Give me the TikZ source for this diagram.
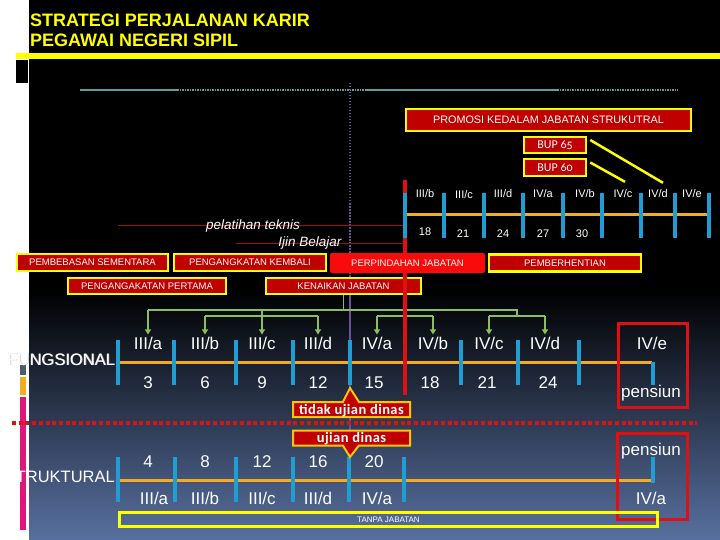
\documentclass[tikz,border=0pt]{standalone}
\usepackage{fontspec}
\setmainfont{Liberation Sans}
\newfontfamily\carlito{Carlito}
\newfontfamily\carlitoOS[Numbers=OldStyle]{Carlito}
\usetikzlibrary{arrows.meta,shapes.callouts}
\definecolor{dkred}{RGB}{192,0,0}
\definecolor{brred}{RGB}{250,10,10}
\definecolor{ylw}{RGB}{255,255,0}
\definecolor{oyl}{RGB}{255,196,0}
\definecolor{tblue}{RGB}{30,158,210}
\definecolor{orng}{RGB}{240,172,40}
\definecolor{grn}{RGB}{140,190,95}
\definecolor{tealln}{RGB}{95,158,150}
\definecolor{purp}{RGB}{105,80,160}
\definecolor{rline}{RGB}{225,15,15}
\definecolor{drline}{RGB}{150,20,20}
\definecolor{mag}{RGB}{225,20,120}
\definecolor{slate}{RGB}{80,90,110}
\definecolor{gold}{RGB}{240,176,30}
\definecolor{bgmid}{RGB}{32,40,62}
\definecolor{bgbot}{RGB}{88,112,160}
\definecolor{shadowgray}{RGB}{200,200,200}
\begin{document}
\begin{tikzpicture}[x=1pt,y=-1pt,
  title/.style={anchor=base west, text=ylw, inner sep=0pt, font=\bfseries\fontsize{18}{18}\selectfont},
  redbox/.style={draw=ylw, line width=2.5pt, fill=dkred, text=white, inner sep=0pt, font=\fontsize{9.5}{9.5}\selectfont},
  callbox/.style={rectangle callout, draw=oyl, line width=2pt, fill=dkred, text=white, inner sep=0pt,
    minimum width=117pt, minimum height=15pt, callout pointer width=16pt,
    text height=10pt, text depth=1pt, font=\carlito\bfseries\fontsize{14.5}{14.5}\selectfont\addfontfeatures{LetterSpace=3}},
  lbls/.style={text=white, inner sep=0pt, anchor=base, font=\fontsize{11}{11}\selectfont},
  lbll/.style={text=white, inner sep=0pt, anchor=base, font=\fontsize{17}{17}\selectfont},
  lblit/.style={text=white, inner sep=0pt, font=\itshape\fontsize{13.5}{13.5}\selectfont},
  side/.style={text=white, inner sep=0pt, anchor=base east, font=\fontsize{16.5}{16.5}\selectfont},
  tick/.style={draw=tblue, line width=4pt},
  orl/.style={draw=orng, line width=3pt},
  tealline/.style={draw=tealln, line width=2pt},
  gline/.style={draw=grn, line width=1.5pt},
  garrow/.style={draw=grn, line width=1.5pt, -{Triangle[length=5pt,width=6pt]}, shorten >=2pt},
  redframe/.style={draw=rline, line width=3pt},
  yline/.style={draw=ylw, line width=2.5pt}
]
\useasboundingbox (0,0) rectangle (720,540);
% background
\fill[black] (29,0) rectangle (720,540);
\shade[top color=black, middle color=bgmid, bottom color=bgbot] (29,290) rectangle (720,540);
\fill[white] (0,0) rectangle (29,540);
\fill[ylw] (16,53) rectangle (720,59);
\fill[black] (16,60) rectangle (28,83);
\fill[slate] (20,365) rectangle (26,375);
\fill[gold] (20,377) rectangle (26,395);
\fill[mag] (20,397) rectangle (26,530);
% title
\node[title] (tl1) at (30,27) {STRATEGI PERJALANAN KARIR};
\node[title] (tl2) at (30,47) {PEGAWAI NEGERI SIPIL};
% teal line
\draw[tealline] (80,90) -- (177,90);
\draw[tealline, dash pattern=on 1.5pt off 1pt] (177,90) -- (365,90);
\draw[tealline] (365,90) -- (557,90);
\draw[tealline, dash pattern=on 1.5pt off 1pt] (557,90) -- (678,90);
% purple vertical
\draw[purp, line width=1.5pt, dash pattern=on 1.5pt off 1.5pt] (350,83) -- (350,277);
\draw[purp, line width=1.5pt] (350,295) -- (350,510);
% thin red lines with labels
\draw[drline, line width=1pt] (118,226) -- (405,226);
\draw[drline, line width=1pt] (236,243) -- (405,243);
\node[lblit] (pel) at (253,226.5) {pelatihan teknis};
\node[lblit] (ijin) at (310,243.5) {Ijin Belajar};

% top boxes
\node[redbox, minimum width=285pt, minimum height=22pt, font=\fontsize{10.8}{10.8}\selectfont] (promo) at (548.5,120) {PROMOSI KEDALAM JABATAN STRUKUTRAL};
\node[redbox, minimum width=62pt, minimum height=16pt, font=\carlitoOS\fontsize{12}{12}\selectfont] (bup65) at (555,145) {BUP 65};
\node[redbox, minimum width=62pt, minimum height=17pt, font=\carlitoOS\fontsize{12}{12}\selectfont] (bup60) at (555,167.5) {BUP 60};

% fungsional timeline
\draw[orl] (118,362) -- (652,362);
\foreach \x in {118,174,236,293,350,461,518,579} \draw[tick] (\x,340) -- (\x,385);
\draw[tick] (653,362) -- (653,385);
% struktural timeline
\draw[orl] (118,480) -- (653,480);
\foreach \x in {118,175,236,293,349,404} \draw[tick] (\x,457) -- (\x,502);
\draw[tick] (653,457) -- (653,483);

% fungsional labels
\node[lbll] (fIIIa) at (148,349) {III/a};
\node[lbll] (fIIIb) at (205,349) {III/b};
\node[lbll] (fIIIc) at (262,349) {III/c};
\node[lbll] (fIIId) at (318,349) {III/d};
\node[lbll] (fIVa) at (377,349) {IV/a};
\node[lbll] (fIVb) at (433,349) {IV/b};
\node[lbll] (fIVc) at (489,349) {IV/c};
\node[lbll] (fIVd) at (545,349) {IV/d};
\node[lbll] (fIVe) at (652,349) {IV/e};
\node[lbll] (fn3) at (148,388) {3};
\node[lbll] (fn6) at (205,388) {6};
\node[lbll] (fn9) at (262,388) {9};
\node[lbll] (fn12) at (318,388) {12};
\node[lbll] (fn15) at (374,388) {15};
\node[lbll] (fn18) at (430,388) {18};
\node[lbll] (fn21) at (487,388) {21};
\node[lbll] (fn24) at (548,388) {24};
\node[lbll] (fpens) at (651,397) {pensiun};
\draw[redframe] (618,323) rectangle (687,407);
\node[side, text=shadowgray] (fungsh) at (115.8,365.8) {FUNGSIONAL};
\node[side] (fung) at (115,365) {FUNGSIONAL};

% struktural labels
\node[lbll] (sn4) at (148,467) {4};
\node[lbll] (sn8) at (205,467) {8};
\node[lbll] (sn12) at (262,467) {12};
\node[lbll] (sn16) at (318,467) {16};
\node[lbll] (sn20) at (374,467) {20};
\node[lbll] (sIIIa) at (154,504) {III/a};
\node[lbll] (sIIIb) at (205,504) {III/b};
\node[lbll] (sIIIc) at (262,504) {III/c};
\node[lbll] (sIIId) at (318,504) {III/d};
\node[lbll] (sIVa) at (377,504) {IV/a};
\node[lbll] (spens) at (651,455) {pensiun};
\node[lbll] (sIVe) at (651,504) {IV/a};
\draw[redframe] (617,433) rectangle (687,519);
\node[side] (strk) at (115,482) {STRUKTURAL};
\node[draw=ylw, line width=3pt, minimum width=538pt, minimum height=14pt, inner sep=0pt, text=white, font=\fontsize{8}{8}\selectfont] (tanpa) at (388.5,519.5) {TANPA JABATAN};

% red dotted line
\draw[rline, line width=4pt, dash pattern=on 4pt off 2.7pt] (12,423) -- (697,423);

% middle boxes
\node[redbox, minimum width=151pt, minimum height=17pt] (pemb) at (92.5,262.5) {PEMBEBASAN SEMENTARA};
\node[redbox, minimum width=152pt, minimum height=17pt] (pkem) at (250,262.5) {PENGANGKATAN KEMBALI};
\node[redbox, minimum width=152pt, minimum height=17pt] (pber) at (565,263) {PEMBERHENTIAN};
\node[redbox, minimum width=158pt, minimum height=16pt] (pper) at (147,286) {PENGANGAKATAN PERTAMA};

% green connectors
\coordinate (gm) at (0,310);
\coordinate (gb) at (0,316);
\coordinate (gr) at (517,310);
\node[redbox, minimum width=155pt, minimum height=16pt] (kj) at (343.5,286) {KENAIKAN JABATAN};
\draw[gline] (kj.south) -- (kj.south |- gm);
\draw[gline] (fIIIa.north |- gm) -- (gr) -- (gr |- gb);
\draw[gline] (fIIIb.north |- gb) -- (fIIId.north |- gb);
\draw[gline] (fIVa.north |- gb) -- (fIVb.north |- gb);
\draw[gline] (fIVc.north |- gb) -- (fIVd.north |- gb);
\draw[gline] (405,310) -- (405,316);
\draw[garrow] (fIIIa.north |- gm) -- (fIIIa.north);
\draw[garrow] (fIIIc.north |- gm) -- (fIIIc.north);
\foreach \n in {fIIIb,fIIId,fIVa,fIVb,fIVc,fIVd} \draw[garrow] (\n.north |- gb) -- (\n.north);

% red vertical line
\draw[rline, line width=3.5pt] (405,180) -- (405,395);
\node[fill=brred, rounded corners=2pt, minimum width=155pt, minimum height=20pt, inner sep=0pt, text=white, font=\fontsize{9.5}{9.5}\selectfont] (pind) at (407.5,263) {PERPINDAHAN JABATAN};

% top timeline
\draw[orl] (405,215) -- (709,215);
\foreach \x in {405,444,484,523,563,602,641,675,709} \draw[tick] (\x,193) -- (\x,238);
\node[lbls] (tIIIb) at (425,197) {III/b};
\node[lbls] (tIIIc) at (464,199) {III/c};
\node[lbls] (tIIId) at (503,197) {III/d};
\node[lbls] (tIVa) at (543,197) {IV/a};
\node[lbls] (tIVb) at (585,197) {IV/b};
\node[lbls] (tIVc) at (623,197) {IV/c};
\node[lbls] (tIVd) at (658,197) {IV/d};
\node[lbls] (tIVe) at (692,197) {IV/e};
\node[lbls] (tn18) at (425,236) {18};
\node[lbls] (tn21) at (463,237) {21};
\node[lbls] (tn24) at (503,237) {24};
\node[lbls] (tn27) at (543,237) {27};
\node[lbls] (tn30) at (582,237) {30};
\draw[yline] ([xshift=3pt,yshift=5pt]bup65.east) -- ([xshift=5pt,yshift=6pt]tIVd.north);
\draw[yline] ([xshift=3pt,yshift=5pt]bup60.east) -- ([xshift=2pt,yshift=7pt]tIVc.north);

% callouts
\node[callbox, callout absolute pointer={(350,388)}] (tud) at (351.5,409.5) {tidak ujian dinas};
\node[callbox, callout absolute pointer={(350,457)}] (ud) at (351.5,438) {ujian dinas};
\end{tikzpicture}
\end{document}
